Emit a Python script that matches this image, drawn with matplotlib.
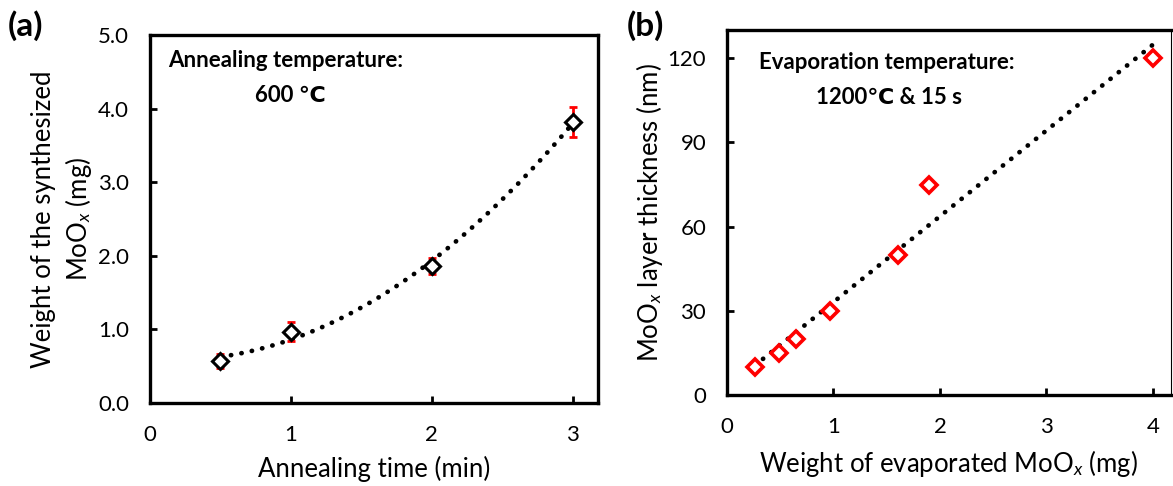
import numpy as np
import matplotlib
matplotlib.use("Agg")
import matplotlib.pyplot as plt

plt.rcParams['font.family'] = ['Lato', 'DejaVu Sans']
plt.rcParams['mathtext.fontset'] = 'custom'
plt.rcParams['mathtext.rm'] = 'Lato'
plt.rcParams['mathtext.it'] = 'Lato:italic'

# (a) annealing time vs weight
t_anneal = [0.5, 1, 2, 3]
w_synth = [0.57, 0.97, 1.86, 3.82]
w_err = [0.10, 0.13, 0.11, 0.20]

# (b) weight vs thickness
w_evap = [0.26, 0.49, 0.65, 0.97, 1.61, 1.90, 4.0]
thick = [10, 15, 20, 30, 50, 75, 120]

fig = plt.figure(figsize=(11.73, 4.86), dpi=100)
ax1 = fig.add_axes([0.1279, 0.1708, 0.3819, 0.757])
ax2 = fig.add_axes([0.6198, 0.187, 0.3785, 0.751])

dot = dict(color='black', linestyle=(0, (0.05, 2.2)), linewidth=3.4,
           dash_capstyle='round')

# trend line (a): polynomial fit
c = np.polyfit(t_anneal, w_synth, 2)
xs = np.linspace(0.5, 3, 200)
ax1.plot(xs, np.polyval(c, xs), zorder=2, **dot)
ax1.errorbar(t_anneal, w_synth, yerr=w_err, fmt='none', ecolor='red',
             elinewidth=2, capsize=3, capthick=2, zorder=3)
ax1.plot(t_anneal, w_synth, 'D', mfc='white', mec='black', ms=8.5, mew=2.2, zorder=4)

ax1.set_xlim(0, 3.18)
ax1.set_ylim(0, 5)
ax1.set_xticks([0, 1, 2, 3])
ax1.set_yticks(np.arange(0, 5.1, 1.0))
ax1.set_yticklabels(['%.1f' % v for v in np.arange(0, 5.1, 1.0)])
ax1.set_xlabel('Annealing time (min)', fontsize=18.5, labelpad=8)
ax1.set_ylabel('Weight of the synthesized\nMoO$_x$ (mg)', fontsize=18.5,
               labelpad=3, linespacing=1.3)
ax1.text(0.04, 0.93, 'Annealing temperature:', transform=ax1.transAxes,
         fontsize=16, fontweight='bold', va='center', ha='left')
ax1.text(0.235, 0.835, '600 ℃', transform=ax1.transAxes,
         fontsize=16, fontweight='bold', va='center', ha='left')

# trend line (b): linear fit
c2 = np.polyfit(w_evap, thick, 1)
xs2 = np.linspace(min(w_evap), max(w_evap), 100)
ax2.plot(xs2, np.polyval(c2, xs2), zorder=2, **dot)
ax2.plot(w_evap, thick, 'D', mfc='white', mec='red', ms=8.5, mew=2.6, zorder=4,
         clip_on=False)

ax2.set_xlim(0, 4.17)
ax2.set_ylim(0, 130)
ax2.set_xticks([0, 1, 2, 3, 4])
ax2.set_yticks([0, 30, 60, 90, 120])
ax2.set_xlabel('Weight of evaporated MoO$_x$ (mg)', fontsize=18.5, labelpad=8)
ax2.set_ylabel('MoO$_x$ layer thickness (nm)', fontsize=18.5, labelpad=2)
ax2.text(0.072, 0.91, 'Evaporation temperature:', transform=ax2.transAxes,
         fontsize=16, fontweight='bold', va='center', ha='left')
ax2.text(0.2, 0.815, '1200℃ & 15 s', transform=ax2.transAxes,
         fontsize=16, fontweight='bold', va='center', ha='left')

for ax in (ax1, ax2):
    for s in ax.spines.values():
        s.set_linewidth(2.4)
    ax.tick_params(direction='in', length=5, width=2, labelsize=16)
    ax.tick_params(axis='x', pad=16)
    ax.tick_params(axis='y', pad=15)
ax2.spines['right'].set_linewidth(0.8)

fig.text(0.007, 0.948, '(a)', fontsize=24, fontweight='bold', ha='left', va='center')
fig.text(0.534, 0.948, '(b)', fontsize=24, fontweight='bold', ha='left', va='center')

fig.savefig('out.png', dpi=100)
